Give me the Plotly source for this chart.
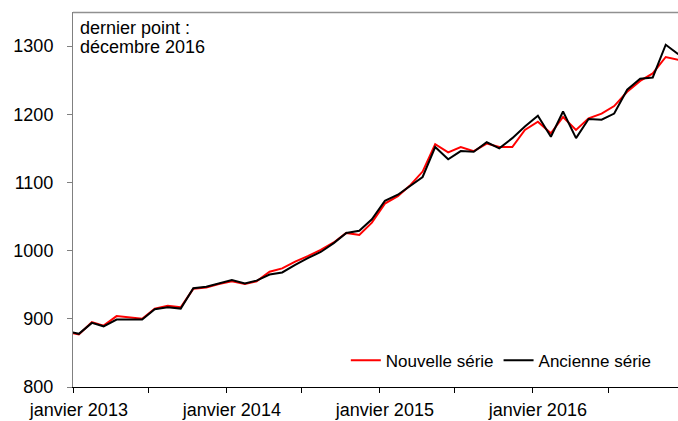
import plotly.graph_objects as go

# Monthly data (mid-month), décembre 2012 -> décembre 2016
months = [f"{y}-{m:02d}-15" for y, m in [(2012, 12)] + [(yy, mm) for yy in range(2013, 2017) for mm in range(1, 13)]]

nouvelle = [881,
            877, 895, 890, 904, 902, 900, 915, 919, 917, 944, 946, 951,
            955, 951, 955, 969, 974, 984, 992, 1001, 1012, 1026, 1023, 1041,
            1069, 1080, 1095, 1116, 1156, 1144, 1152, 1146, 1157, 1152, 1152, 1177,
            1189, 1172, 1196, 1177, 1194, 1201, 1212, 1233, 1249, 1260, 1284, 1280]

ancienne = [882,
            878, 894, 889, 899, 899, 899, 914, 917, 915, 945, 947, 952,
            957, 952, 956, 965, 968, 979, 989, 998, 1011, 1026, 1029, 1046,
            1073, 1082, 1094, 1108, 1152, 1134, 1146, 1145, 1159, 1150, 1165, 1182,
            1198, 1167, 1204, 1165, 1193, 1192, 1201, 1236, 1252, 1254, 1302, 1288]

label_vals = ["2013-01-15", "2014-01-15", "2015-01-15", "2016-01-15"]
label_text = ["janvier 2013", "janvier 2014", "janvier 2015", "janvier 2016"]
tick_marks = ["2013-01-01", "2013-07-01", "2014-01-01", "2014-07-01",
              "2015-01-01", "2015-07-01", "2016-01-01", "2016-07-01"]
y_ticks = [800, 900, 1000, 1100, 1200, 1300]
note_lines = ["dernier point :", "décembre 2016"]

FONT = "Liberation Sans, Arial, sans-serif"

fig = go.Figure()
fig.add_trace(go.Scatter(x=months, y=nouvelle, mode="lines", name="Nouvelle série",
                         line=dict(color="#ff0000", width=2)))
fig.add_trace(go.Scatter(x=months, y=ancienne, mode="lines", name="Ancienne série",
                         line=dict(color="#000000", width=2)))

fig.update_layout(
    width=678, height=421,
    margin=dict(l=73, r=0, t=12, b=34, autoexpand=False),
    paper_bgcolor="white", plot_bgcolor="white",
    font=dict(family=FONT, size=18, color="black"),
    showlegend=True,
    legend=dict(orientation="h", x=0.965, xanchor="right", y=0.07, yanchor="middle",
                font=dict(size=17), bgcolor="rgba(0,0,0,0)", itemwidth=30,
                tracegroupgap=0),
    xaxis=dict(
        type="date",
        range=["2013-01-01", "2016-12-14 06:00"],
        tickmode="array", tickvals=label_vals, ticktext=label_text,
        ticks="", showgrid=False, zeroline=False,
        showline=True, linecolor="black", linewidth=1,
        ticklabelstandoff=6,
        minor=dict(tickmode="array", tickvals=tick_marks, ticks="outside",
                   ticklen=5, tickcolor="black", tickwidth=1, showgrid=False),
    ),
    yaxis=dict(
        range=[800, 1350],
        tickmode="array", tickvals=y_ticks,
        ticks="outside", ticklen=5, tickcolor="#808080", tickwidth=1,
        showgrid=False, zeroline=False,
        showline=True, linecolor="#808080", linewidth=1,
        ticklabelstandoff=10,
    ),
    shapes=[dict(type="line", xref="paper", yref="paper", x0=0, x1=1, y0=0.999, y1=0.999,
                 line=dict(color="#909090", width=1.5))],
    annotations=[
        dict(text=note_lines[0], xref="paper", yref="paper", x=0.008, y=0.957,
             xanchor="left", yanchor="middle", showarrow=False, font=dict(size=18)),
        dict(text=note_lines[1], xref="paper", yref="paper", x=0.008, y=0.906,
             xanchor="left", yanchor="middle", showarrow=False, font=dict(size=18)),
    ],
)

fig.write_html("out.html",
               config={"displayModeBar": False},
               post_script="document.body.style.margin='0';document.body.style.padding='0';"
                           "document.body.style.overflow='hidden';")
